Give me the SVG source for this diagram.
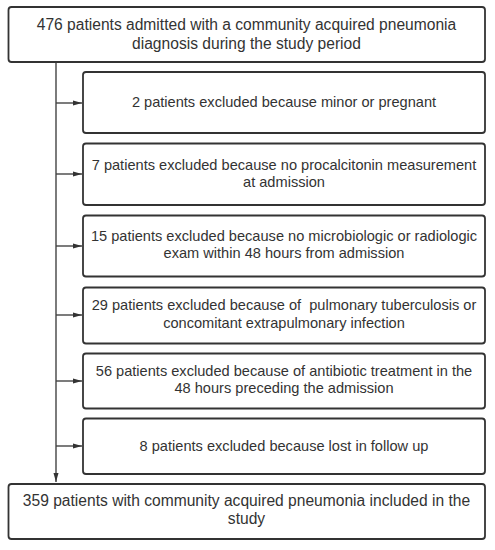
<svg xmlns="http://www.w3.org/2000/svg" width="495" height="550" viewBox="0 0 495 550">
<defs>
<style>
.box{fill:#fff;stroke:#333;stroke-width:1.8}
.t{font-family:"Liberation Sans",Arial,sans-serif;font-size:14.6px;fill:#333;text-anchor:middle}
.big{font-size:15.6px}
.c{stroke:#444;stroke-width:1.4;fill:none}
</style>
<marker id="ah" markerWidth="10" markerHeight="8" refX="9" refY="4" orient="auto" markerUnits="userSpaceOnUse">
<path d="M0,1.5 L9,4 L0,6.5 Z" fill="#333"/>
</marker>
</defs>
<rect width="495" height="550" fill="#fff"/>
<g id="connectors">
<path class="c" d="M56,62 V482" marker-end="url(#ah)"/>
<path class="c" d="M56,103 H82" marker-end="url(#ah)"/>
<path class="c" d="M56,174 H82" marker-end="url(#ah)"/>
<path class="c" d="M56,246 H82" marker-end="url(#ah)"/>
<path class="c" d="M56,315 H82" marker-end="url(#ah)"/>
<path class="c" d="M56,381 H82" marker-end="url(#ah)"/>
<path class="c" d="M56,446 H82" marker-end="url(#ah)"/>
</g>
<g id="n0">
<rect class="box" x="8.5" y="7" width="476.5" height="55" rx="3"/>
<text class="t big" x="246.5" y="29.5">476 patients admitted with a community acquired pneumonia</text>
<text class="t big" x="246.5" y="48.5">diagnosis during the study period</text>
</g>
<g id="n1">
<rect class="box" x="83" y="72" width="402" height="61" rx="3"/>
<text class="t" x="284" y="107">2 patients excluded because minor or pregnant</text>
</g>
<g id="n2">
<rect class="box" x="83" y="143.5" width="402" height="61.5" rx="3"/>
<text class="t" x="284" y="169.5">7 patients excluded because no procalcitonin measurement</text>
<text class="t" x="284" y="187">at admission</text>
</g>
<g id="n3">
<rect class="box" x="83" y="215.5" width="402" height="61" rx="3"/>
<text class="t" x="284" y="241">15 patients excluded because no microbiologic or radiologic</text>
<text class="t" x="284" y="258">exam within 48 hours from admission</text>
</g>
<g id="n4">
<rect class="box" x="83" y="287.5" width="402" height="56" rx="3"/>
<text class="t" x="284" y="310" style="white-space:pre">29 patients excluded because of  pulmonary tuberculosis or</text>
<text class="t" x="284" y="327.5">concomitant extrapulmonary infection</text>
</g>
<g id="n5">
<rect class="box" x="83" y="353.5" width="402" height="55" rx="3"/>
<text class="t" x="284" y="375.5">56 patients excluded because of antibiotic treatment in the</text>
<text class="t" x="284" y="393">48 hours preceding the admission</text>
</g>
<g id="n6">
<rect class="box" x="83" y="418.5" width="402" height="55.5" rx="3"/>
<text class="t" x="284" y="450.5">8 patients excluded because lost in follow up</text>
</g>
<g id="n7">
<rect class="box" x="8.5" y="484" width="476.5" height="55" rx="3"/>
<text class="t big" x="246.5" y="506">359 patients with community acquired pneumonia included in the</text>
<text class="t big" x="246.5" y="523.5">study</text>
</g>
</svg>
